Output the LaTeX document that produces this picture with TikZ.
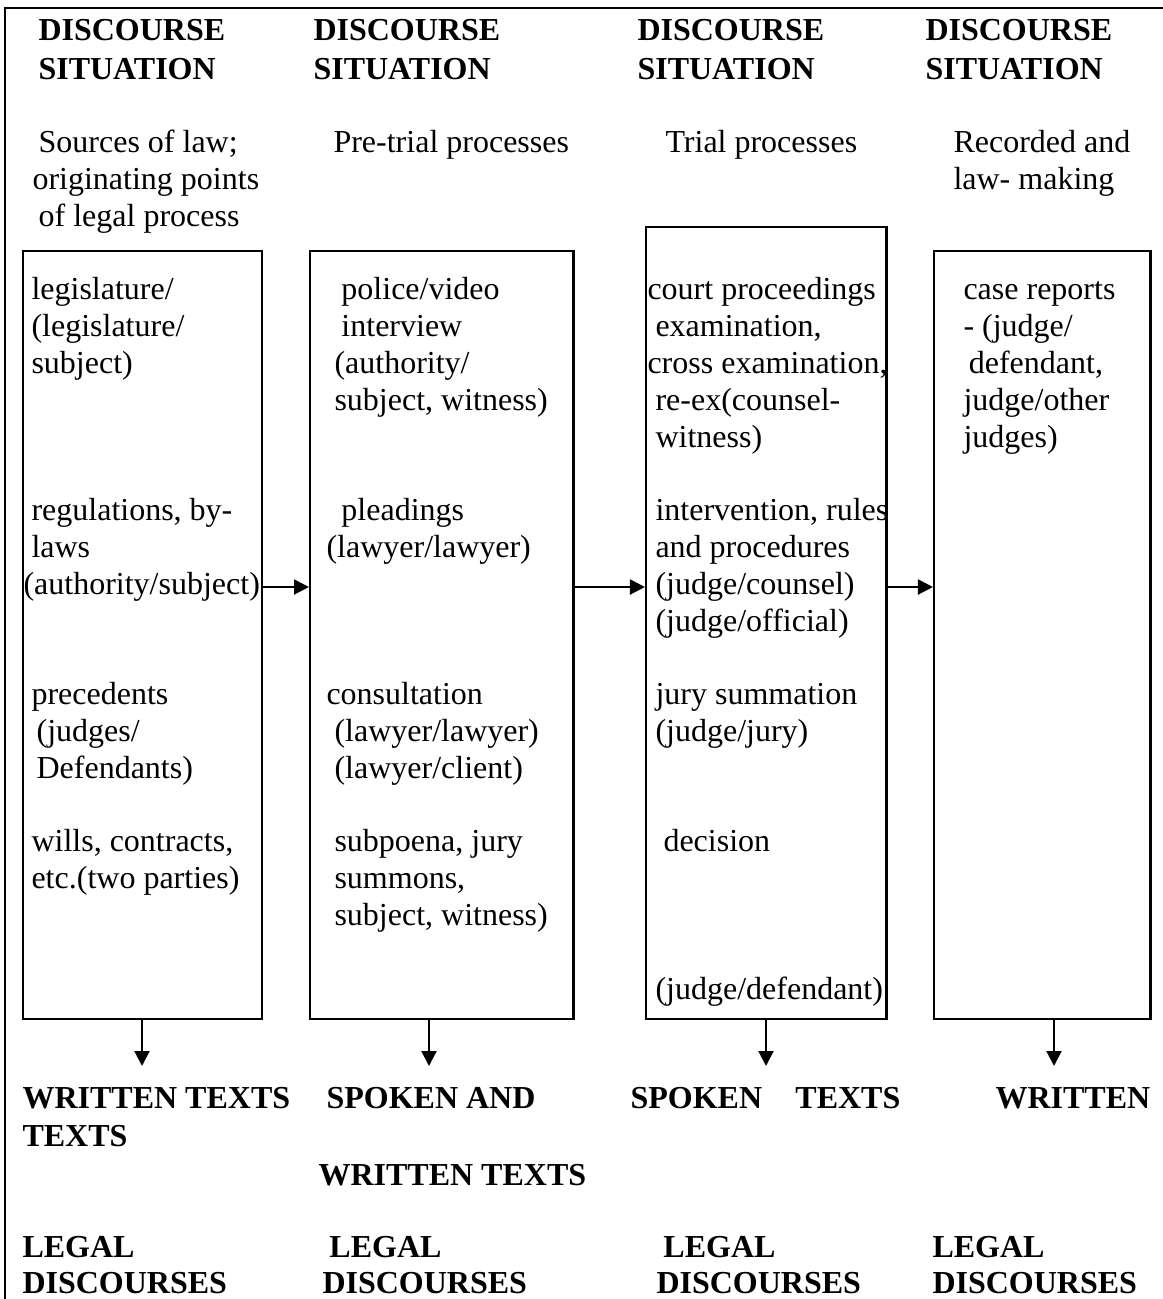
\documentclass[tikz,border=0pt]{standalone}
\usepackage{fontspec}
\setmainfont{Liberation Serif}
\usetikzlibrary{arrows.meta}
\newcommand{\mytop}{\rule{0pt}{10pt}}
\begin{document}
\begin{tikzpicture}[x=0.375pt,y=-0.375pt,
  box/.style={draw, line width=0.8pt, inner sep=0pt},
  arr/.style={line width=0.8pt, -{Triangle[length=5.6pt,width=5.6pt]}},
  txt/.style={anchor=north west, inner sep=0pt, align=left, yshift=8.1pt, font=\fontsize{12}{13.8}\selectfont},
  btxt/.style={anchor=north west, inner sep=0pt, align=left, yshift=10pt, font=\fontsize{12}{14.8}\selectfont\bfseries},
  otxt/.style={btxt, font=\fontsize{12}{14.25}\selectfont\bfseries},
  lbtxt/.style={btxt, font=\fontsize{12}{13.5}\selectfont\bfseries},
]
\useasboundingbox (0,0) rectangle (1163,1299);
% frame
\draw[line width=1pt] (5,1299) -- (5,8) -- (1163,8);

% headers
\node[btxt] (h1) at (38,39.5) {\mytop DISCOURSE\\SITUATION};
\node[btxt] (h2) at (313,39.5) {\mytop DISCOURSE\\SITUATION};
\node[btxt] (h3) at (637,39.5) {\mytop DISCOURSE\\SITUATION};
\node[btxt] (h4) at (925,39.5) {\mytop DISCOURSE\\SITUATION};

% subtitles
\node[txt] (s1) at (32,147) {\mytop\hspace*{2.3pt}Sources of law;\\originating points\\\hspace*{2.3pt}of legal process};
\node[txt] (s2) at (333,147) {\mytop Pre-trial processes};
\node[txt] (s3) at (665,147) {\mytop Trial processes};
\node[txt] (s4) at (953,147) {\mytop Recorded and\\law- making};

% boxes
\node[box, minimum width=89.74pt, minimum height=288pt] (b1) at (142.35,635) {};
\node[box, minimum width=98.81pt, minimum height=288pt] (b2) at (441.75,635) {};
\node[box, minimum width=90.19pt, minimum height=297pt] (b3) at (766.25,623) {};
\node[box, minimum width=81.19pt, minimum height=288pt] (b4) at (1042.25,635) {};

% box 1 text
\node[txt] (t11) at (31,294.2) {\mytop legislature/\\(legislature/\\subject)};
\node[txt] (t12) at (23,515) {\mytop\hspace*{3pt}regulations, by-\\\hspace*{3pt}laws\\(authority/subject)};
\node[txt] (t13) at (31,699) {\mytop precedents\\\hspace*{1.9pt}(judges/\\\hspace*{1.9pt}Defendants)};
\node[txt] (t14) at (31,846.2) {\mytop wills, contracts,\\etc.(two parties)};

% box 2 text
\node[txt] (t21) at (334,294.2) {\mytop\hspace*{2.6pt}police/video\\\hspace*{2.6pt}interview\\(authority/\\subject, witness)};
\node[txt] (t22) at (326,515) {\mytop\hspace*{5.6pt}pleadings\\(lawyer/lawyer)};
\node[txt] (t23) at (326,699) {\mytop consultation\\\hspace*{3pt}(lawyer/lawyer)\\\hspace*{3pt}(lawyer/client)};
\node[txt] (t24) at (334,846.2) {\mytop subpoena, jury\\summons,\\subject, witness)};

% box 3 text
\node[txt] (t31) at (647,294.2) {\mytop court proceedings\\\hspace*{3pt}examination,\\cross examination,\\\hspace*{3pt}re-ex(counsel-\\\hspace*{3pt}witness)};
\node[txt] (t32) at (655,515) {\mytop intervention, rules\\and procedures\\(judge/counsel)\\(judge/official)};
\node[txt] (t33) at (655,699) {\mytop jury summation\\(judge/jury)};
\node[txt] (t34) at (663,846.2) {\mytop decision};
\node[txt] (t35) at (655,993.4) {\mytop (judge/defendant)};

% box 4 text
\node[txt] (t41) at (963,294.2) {\mytop case reports\\- (judge/\\\hspace*{2pt}defendant,\\judge/other\\judges)};

% horizontal arrows
\coordinate (ya) at (0,587);
\draw[arr] (b1.east |- ya) -- (b2.west |- ya);
\draw[arr] (b2.east |- ya) -- (b3.west |- ya);
\draw[arr] (b3.east |- ya) -- (b4.west |- ya);

% vertical arrows
\coordinate (d1) at (142,1066);
\coordinate (d2) at (429,1066);
\coordinate (d3) at (766,1066);
\coordinate (d4) at (1054,1066);
\draw[arr] (b1.south -| d1) -- (d1);
\draw[arr] (b2.south -| d2) -- (d2);
\draw[arr] (b3.south -| d3) -- (d3);
\draw[arr] (b4.south -| d4) -- (d4);

% outputs
\node[otxt] (o1) at (22,1108) {\mytop WRITTEN TEXTS\\TEXTS};
\node[btxt] (o2) at (326,1108) {\mytop SPOKEN AND};
\node[btxt] (o2b) at (318,1185) {\mytop WRITTEN TEXTS};
\node[btxt] (o3) at (630,1108) {\mytop SPOKEN\hspace{12.5pt}TEXTS};
\node[btxt] (o4) at (995,1108) {\mytop WRITTEN};

% legal discourses
\node[lbtxt] (l1) at (22,1257) {\mytop LEGAL\\DISCOURSES};
\node[lbtxt] (l2) at (322,1257) {\mytop\hspace*{2.6pt}LEGAL\\DISCOURSES};
\node[lbtxt] (l3) at (656,1257) {\mytop\hspace*{2.6pt}LEGAL\\DISCOURSES};
\node[lbtxt] (l4) at (932,1257) {\mytop LEGAL\\DISCOURSES};
\end{tikzpicture}
\end{document}
